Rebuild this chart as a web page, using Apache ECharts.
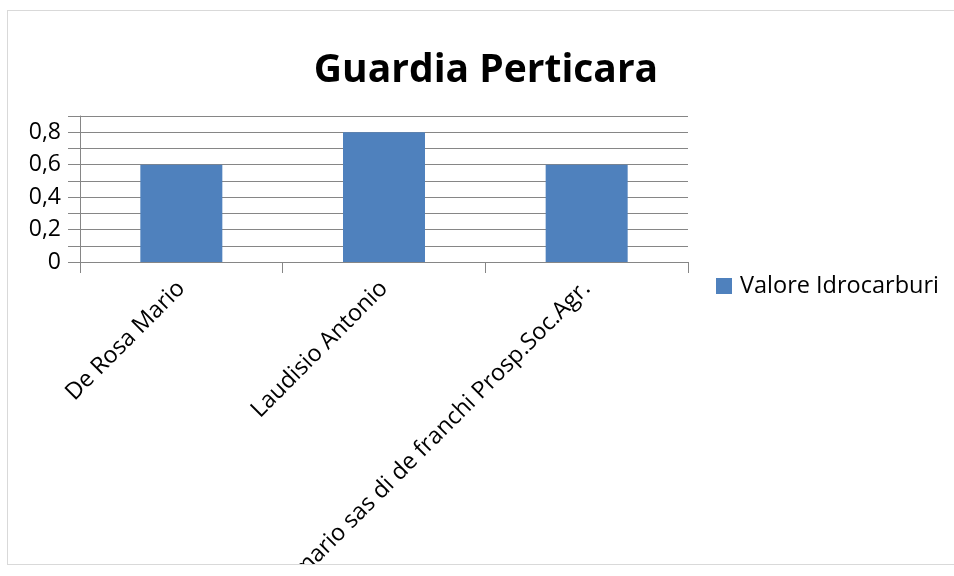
<!DOCTYPE html>
<html>
<head>
<meta charset="utf-8">
<script src="https://cdn.jsdelivr.net/npm/echarts@6/dist/echarts.min.js"></script>
<style>
  html, body { margin: 0; padding: 0; background: #fff; overflow: hidden; }
  #frame { position: absolute; left: 7px; top: 10px; width: 956px; height: 553px; border: 1px solid #d9d9d9; }
  #main { width: 956px; height: 553px; }
</style>
</head>
<body>
<div id="frame"><div id="main"></div></div>
<script>
  var categories = ['De Rosa Mario', 'Laudisio Antonio', 'mario sas di de franchi Prosp.Soc.Agr.'];
  var valori = [0.6, 0.8, 0.6]; // Valore Idrocarburi
  var seriesName = 'Valore Idrocarburi';
  var fontFam = '"Open Sans", sans-serif';

  var chart = echarts.init(document.getElementById('main'));

  var option = {
    animation: false,
    title: {
      text: 'Guardia Perticara',
      left: 'center',
      top: 35,
      textStyle: { fontFamily: fontFam, fontSize: 39, fontWeight: 'bold', color: '#000' }
    },
    legend: {
      left: 703,
      top: 258,
      itemWidth: 16,
      itemHeight: 16,
      icon: 'rect',
      textStyle: { fontFamily: fontFam, fontSize: 23.5, color: '#000', padding: [0, 0, 0, 3] },
      data: [seriesName]
    },
    grid: { left: 72, right: 276, top: 105, bottom: 302, containLabel: false, outerBoundsMode: 'none' },
    xAxis: {
      type: 'category',
      data: categories,
      axisLine: { lineStyle: { color: '#868686', width: 1 } },
      axisTick: { show: true, length: 11, interval: 0, lineStyle: { color: '#868686' } },
      axisLabel: {
        interval: 0, rotate: 45, margin: 23,
        fontFamily: fontFam, fontSize: 23.3, color: '#000'
      }
    },
    yAxis: {
      type: 'value',
      min: 0, max: 0.9, interval: 0.1,
      axisLine: { show: true, lineStyle: { color: '#868686', width: 1 } },
      axisTick: { show: true, length: 12, lineStyle: { color: '#868686' } },
      splitLine: { show: true, lineStyle: { color: '#868686', width: 1 } },
      axisLabel: {
        margin: 19, fontFamily: fontFam, fontSize: 23, color: '#000',
        formatter: function (v) {
          var t = Math.round(v * 10);
          if (t % 2 !== 0) return '';
          return t === 0 ? '0' : (t / 10).toFixed(1).replace('.', ',');
        }
      }
    },
    series: [{
      name: seriesName,
      type: 'bar',
      data: valori,
      barWidth: 82,
      itemStyle: { color: '#4f81bd' }
    }]
  };

  chart.setOption(option);
</script>
</body>
</html>
